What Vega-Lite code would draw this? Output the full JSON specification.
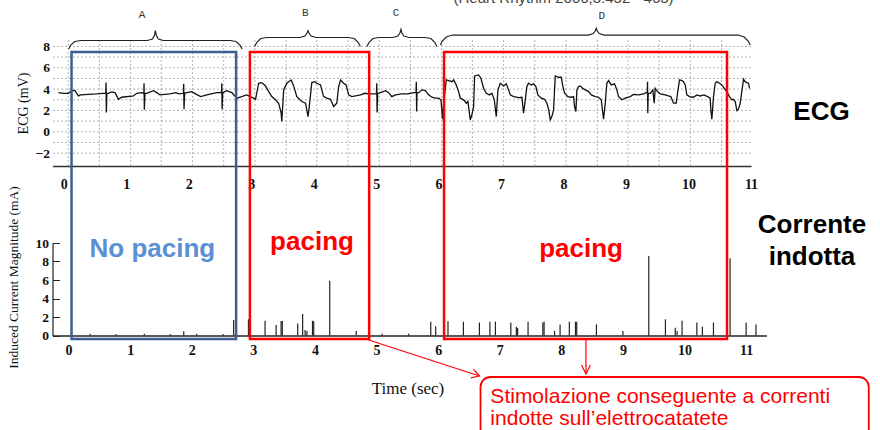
{
  "$schema": "https://vega.github.io/schema/vega-lite/v6.json",
  "background": "white",
  "padding": {"left": 5.5, "top": -9, "right": 0, "bottom": 0},
  "spacing": 77,
  "bounds": "flush",
  "config": {"view": {"stroke": null}, "axis": {"labelOverlap": false, "labelBound": false}},
  "datasets": {
    "ecg": [
      {"t":-0.085,"v":3.67},{"t":-0.005,"v":3.61},{"t":0.075,"v":3.61},{"t":0.128,"v":3.86},{"t":0.18,"v":3.86},{"t":0.235,"v":3.36},{"t":0.27,"v":3.46},{"t":0.4,"v":3.5},{"t":0.53,"v":3.55},{"t":0.635,"v":3.61},{"t":0.672,"v":3.61},{"t":0.677,"v":4.61},{"t":0.682,"v":1.81},{"t":0.69,"v":3.61},{"t":0.715,"v":3.61},{"t":0.768,"v":3.74},{"t":0.82,"v":3.67},{"t":0.875,"v":3.05},{"t":0.928,"v":3.24},{"t":1.115,"v":3.36},{"t":1.168,"v":3.61},{"t":1.248,"v":3.67},{"t":1.282,"v":3.61},{"t":1.285,"v":4.55},{"t":1.29,"v":2.06},{"t":1.3,"v":3.61},{"t":1.328,"v":3.61},{"t":1.435,"v":3.86},{"t":1.488,"v":3.67},{"t":1.54,"v":3.46},{"t":1.7,"v":3.55},{"t":1.797,"v":3.67},{"t":1.84,"v":3.55},{"t":1.915,"v":3.61},{"t":1.92,"v":4.5},{"t":1.925,"v":2.12},{"t":1.935,"v":3.61},{"t":1.97,"v":3.67},{"t":2.05,"v":3.77},{"t":2.11,"v":3.55},{"t":2.19,"v":3.3},{"t":2.29,"v":3.46},{"t":2.45,"v":3.67},{"t":2.525,"v":3.67},{"t":2.53,"v":4.55},{"t":2.535,"v":2.12},{"t":2.545,"v":3.67},{"t":2.61,"v":3.86},{"t":2.69,"v":3.67},{"t":2.77,"v":3.15},{"t":2.85,"v":3.3},{"t":2.92,"v":3.46},{"t":2.99,"v":3.3},{"t":3.07,"v":3.05},{"t":3.12,"v":4.55},{"t":3.17,"v":4.61},{"t":3.23,"v":4.3},{"t":3.28,"v":3.77},{"t":3.33,"v":3.3},{"t":3.39,"v":3.0},{"t":3.44,"v":2.68},{"t":3.48,"v":1.75},{"t":3.49,"v":0.97},{"t":3.52,"v":3.93},{"t":3.57,"v":4.55},{"t":3.6,"v":4.7},{"t":3.64,"v":4.86},{"t":3.68,"v":4.3},{"t":3.73,"v":3.3},{"t":3.81,"v":2.84},{"t":3.87,"v":2.68},{"t":3.91,"v":1.43},{"t":3.93,"v":2.37},{"t":3.97,"v":4.61},{"t":4.02,"v":4.7},{"t":4.05,"v":4.55},{"t":4.11,"v":4.39},{"t":4.13,"v":3.93},{"t":4.16,"v":3.3},{"t":4.21,"v":3.15},{"t":4.27,"v":3.05},{"t":4.32,"v":2.37},{"t":4.37,"v":2.68},{"t":4.4,"v":4.24},{"t":4.43,"v":4.86},{"t":4.48,"v":4.55},{"t":4.52,"v":4.39},{"t":4.56,"v":3.46},{"t":4.61,"v":3.3},{"t":4.67,"v":3.36},{"t":4.75,"v":3.46},{"t":4.82,"v":3.61},{"t":4.88,"v":3.55},{"t":4.96,"v":3.55},{"t":5.005,"v":3.55},{"t":5.01,"v":4.55},{"t":5.015,"v":1.81},{"t":5.025,"v":3.6},{"t":5.07,"v":3.67},{"t":5.15,"v":3.86},{"t":5.2,"v":3.67},{"t":5.25,"v":3.3},{"t":5.31,"v":3.46},{"t":5.41,"v":3.55},{"t":5.51,"v":3.55},{"t":5.547,"v":3.61},{"t":5.6,"v":3.67},{"t":5.638,"v":3.67},{"t":5.643,"v":4.7},{"t":5.648,"v":1.9},{"t":5.655,"v":3.67},{"t":5.68,"v":3.67},{"t":5.733,"v":3.93},{"t":5.787,"v":3.86},{"t":5.84,"v":3.46},{"t":5.893,"v":3.24},{"t":5.947,"v":3.15},{"t":6.0,"v":3.15},{"t":6.037,"v":3.0},{"t":6.064,"v":1.18},{"t":6.08,"v":2.68},{"t":6.123,"v":4.86},{"t":6.16,"v":4.8},{"t":6.213,"v":4.7},{"t":6.24,"v":4.86},{"t":6.283,"v":4.39},{"t":6.32,"v":3.77},{"t":6.347,"v":3.15},{"t":6.4,"v":3.0},{"t":6.443,"v":2.68},{"t":6.469,"v":2.84},{"t":6.507,"v":1.12},{"t":6.533,"v":1.59},{"t":6.56,"v":2.37},{"t":6.576,"v":5.23},{"t":6.64,"v":5.33},{"t":6.677,"v":5.02},{"t":6.72,"v":4.08},{"t":6.763,"v":3.61},{"t":6.816,"v":3.46},{"t":6.853,"v":3.61},{"t":6.891,"v":3.0},{"t":6.923,"v":1.43},{"t":6.949,"v":3.93},{"t":6.987,"v":4.55},{"t":7.04,"v":4.3},{"t":7.083,"v":4.49},{"t":7.12,"v":3.93},{"t":7.147,"v":3.46},{"t":7.2,"v":3.3},{"t":7.28,"v":3.2},{"t":7.333,"v":3.24},{"t":7.36,"v":1.74},{"t":7.387,"v":3.0},{"t":7.413,"v":4.24},{"t":7.44,"v":4.55},{"t":7.483,"v":4.39},{"t":7.52,"v":4.49},{"t":7.557,"v":4.24},{"t":7.589,"v":3.46},{"t":7.643,"v":3.15},{"t":7.696,"v":3.05},{"t":7.733,"v":2.68},{"t":7.76,"v":2.12},{"t":7.787,"v":1.12},{"t":7.813,"v":1.43},{"t":7.84,"v":2.06},{"t":7.867,"v":5.23},{"t":7.92,"v":5.11},{"t":7.963,"v":5.11},{"t":7.984,"v":4.39},{"t":8.016,"v":3.61},{"t":8.069,"v":3.3},{"t":8.123,"v":3.24},{"t":8.16,"v":3.3},{"t":8.176,"v":2.37},{"t":8.197,"v":1.9},{"t":8.213,"v":3.93},{"t":8.24,"v":4.24},{"t":8.267,"v":4.3},{"t":8.304,"v":4.08},{"t":8.347,"v":3.93},{"t":8.4,"v":3.77},{"t":8.443,"v":3.46},{"t":8.507,"v":3.3},{"t":8.56,"v":3.24},{"t":8.603,"v":3.0},{"t":8.64,"v":1.18},{"t":8.667,"v":2.68},{"t":8.693,"v":4.55},{"t":8.72,"v":4.8},{"t":8.763,"v":4.39},{"t":8.816,"v":4.49},{"t":8.853,"v":3.93},{"t":8.88,"v":3.3},{"t":8.933,"v":3.0},{"t":8.987,"v":3.15},{"t":9.067,"v":3.3},{"t":9.12,"v":3.5},{"t":9.2,"v":3.46},{"t":9.28,"v":3.55},{"t":9.323,"v":3.67},{"t":9.34,"v":3.67},{"t":9.344,"v":4.7},{"t":9.348,"v":1.74},{"t":9.355,"v":3.6},{"t":9.387,"v":3.61},{"t":9.429,"v":3.93},{"t":9.451,"v":2.68},{"t":9.467,"v":4.08},{"t":9.504,"v":3.77},{"t":9.547,"v":3.55},{"t":9.627,"v":3.46},{"t":9.68,"v":3.36},{"t":9.717,"v":3.3},{"t":9.76,"v":2.68},{"t":9.803,"v":2.68},{"t":9.824,"v":3.61},{"t":9.856,"v":4.86},{"t":9.893,"v":4.8},{"t":9.92,"v":4.7},{"t":9.947,"v":4.39},{"t":9.973,"v":3.46},{"t":10.016,"v":3.3},{"t":10.08,"v":3.24},{"t":10.133,"v":3.46},{"t":10.187,"v":3.36},{"t":10.251,"v":3.46},{"t":10.304,"v":3.3},{"t":10.347,"v":3.15},{"t":10.357,"v":2.06},{"t":10.373,"v":1.18},{"t":10.4,"v":3.3},{"t":10.427,"v":4.55},{"t":10.453,"v":4.7},{"t":10.496,"v":4.55},{"t":10.533,"v":4.39},{"t":10.571,"v":4.08},{"t":10.613,"v":3.77},{"t":10.656,"v":3.3},{"t":10.693,"v":3.0},{"t":10.72,"v":3.05},{"t":10.747,"v":2.84},{"t":10.773,"v":2.0},{"t":10.8,"v":2.12},{"t":10.827,"v":2.68},{"t":10.853,"v":3.77},{"t":10.88,"v":4.92},{"t":10.907,"v":4.7},{"t":10.933,"v":4.61},{"t":10.96,"v":4.55},{"t":10.976,"v":4.08}
    ],
    "cur": [
      {"t":0.35,"a":0.2},{"t":0.77,"a":0.15},{"t":1.23,"a":0.2},{"t":1.65,"a":0.15},{"t":1.87,"a":0.45},{"t":2.08,"a":0.2},{"t":2.51,"a":0.15},
      {"t":2.68,"a":1.68},{"t":2.92,"a":1.75},{"t":3.19,"a":1.6},{"t":3.37,"a":1.13},{"t":3.45,"a":1.56},{"t":3.47,"a":1.56},{"t":3.72,"a":1.31},{"t":3.8,"a":2.32},{"t":3.84,"a":0.6},{"t":3.87,"a":0.5},{"t":3.96,"a":1.6},{"t":3.98,"a":1.55},{"t":4.24,"a":5.93},{"t":4.67,"a":0.5},{"t":5.09,"a":0.2},{"t":5.52,"a":0.2},{"t":5.88,"a":1.5},{"t":5.96,"a":1.0},{"t":6.16,"a":1.55},{"t":6.41,"a":1.5},{"t":6.67,"a":1.4},{"t":6.84,"a":1.5},{"t":6.93,"a":1.5},{"t":7.18,"a":1.4},{"t":7.27,"a":0.95},{"t":7.29,"a":0.8},{"t":7.46,"a":1.5},{"t":7.7,"a":1.4},{"t":7.72,"a":1.5},{"t":7.89,"a":0.5},{"t":7.98,"a":1.2},{"t":8.13,"a":1.5},{"t":8.23,"a":1.5},{"t":8.25,"a":1.5},{"t":8.57,"a":1.2},{"t":9.0,"a":0.5},{"t":9.42,"a":8.6},{"t":9.69,"a":1.75},{"t":9.85,"a":0.85},{"t":9.88,"a":0.5},{"t":9.96,"a":1.6},{"t":10.2,"a":1.4},{"t":10.29,"a":0.95},{"t":10.47,"a":1.4},{"t":10.74,"a":8.35},{"t":11.0,"a":1.4},{"t":11.16,"a":1.2}
    ],
    "vgrid": [
      {"t":0.07},{"t":0.57},{"t":1.07},{"t":1.56},{"t":2.06},{"t":2.56},{"t":3.06},{"t":3.56},{"t":4.05},{"t":4.55},{"t":5.05},{"t":5.55},{"t":6.05},{"t":6.54},{"t":7.04},{"t":7.54},{"t":8.04},{"t":8.54},{"t":9.03},{"t":9.53},{"t":10.03},{"t":10.53}
    ],
    "hgrid": [
      {"v":-2},{"v":-1},{"v":0},{"v":1},{"v":2},{"v":3},{"v":4},{"v":5},{"v":6},{"v":7},{"v":8}
    ],
    "braces": [
      {"b":"A","i":0,"t":0.08,"v":7.757},{"b":"A","i":1,"t":0.112,"v":8.131},{"b":"A","i":2,"t":0.176,"v":8.458},{"b":"A","i":3,"t":0.272,"v":8.551},{"b":"A","i":4,"t":1.339,"v":8.551},{"b":"A","i":5,"t":1.419,"v":8.692},{"b":"A","i":6,"t":1.451,"v":9.019},{"b":"A","i":7,"t":1.467,"v":9.467},{"b":"A","i":8,"t":1.483,"v":9.019},{"b":"A","i":9,"t":1.515,"v":8.692},{"b":"A","i":10,"t":1.595,"v":8.551},{"b":"A","i":11,"t":2.661,"v":8.551},{"b":"A","i":12,"t":2.757,"v":8.458},{"b":"A","i":13,"t":2.821,"v":8.131},{"b":"A","i":14,"t":2.853,"v":7.757},
      {"b":"B","i":0,"t":3.056,"v":7.991},{"b":"B","i":1,"t":3.088,"v":8.364},{"b":"B","i":2,"t":3.152,"v":8.738},{"b":"B","i":3,"t":3.248,"v":8.832},{"b":"B","i":4,"t":3.781,"v":8.832},{"b":"B","i":5,"t":3.861,"v":8.972},{"b":"B","i":6,"t":3.893,"v":9.252},{"b":"B","i":7,"t":3.909,"v":9.467},{"b":"B","i":8,"t":3.925,"v":9.252},{"b":"B","i":9,"t":3.957,"v":8.972},{"b":"B","i":10,"t":4.037,"v":8.832},{"b":"B","i":11,"t":4.555,"v":8.832},{"b":"B","i":12,"t":4.651,"v":8.738},{"b":"B","i":13,"t":4.715,"v":8.364},{"b":"B","i":14,"t":4.747,"v":7.991},
      {"b":"C","i":0,"t":4.853,"v":7.991},{"b":"C","i":1,"t":4.885,"v":8.364},{"b":"C","i":2,"t":4.949,"v":8.738},{"b":"C","i":3,"t":5.045,"v":8.832},{"b":"C","i":4,"t":5.269,"v":8.832},{"b":"C","i":5,"t":5.349,"v":8.972},{"b":"C","i":6,"t":5.381,"v":9.252},{"b":"C","i":7,"t":5.397,"v":9.598},{"b":"C","i":8,"t":5.413,"v":9.252},{"b":"C","i":9,"t":5.445,"v":8.972},{"b":"C","i":10,"t":5.525,"v":8.832},{"b":"C","i":11,"t":5.781,"v":8.832},{"b":"C","i":12,"t":5.877,"v":8.738},{"b":"C","i":13,"t":5.941,"v":8.364},{"b":"C","i":14,"t":5.973,"v":7.991},
      {"b":"D","i":0,"t":6.027,"v":8.131},{"b":"D","i":1,"t":6.059,"v":8.505},{"b":"D","i":2,"t":6.123,"v":8.879},{"b":"D","i":3,"t":6.219,"v":9.065},{"b":"D","i":4,"t":8.395,"v":9.065},{"b":"D","i":5,"t":8.475,"v":9.206},{"b":"D","i":6,"t":8.507,"v":9.439},{"b":"D","i":7,"t":8.523,"v":9.692},{"b":"D","i":8,"t":8.539,"v":9.439},{"b":"D","i":9,"t":8.571,"v":9.206},{"b":"D","i":10,"t":8.651,"v":9.065},{"b":"D","i":11,"t":10.795,"v":9.065},{"b":"D","i":12,"t":10.891,"v":8.879},{"b":"D","i":13,"t":10.955,"v":8.505},{"b":"D","i":14,"t":10.987,"v":8.131}
    ],
    "braceLabels": [
      {"label":"A","t":1.253,"v":10.93},{"label":"B","t":3.867,"v":11.09},{"label":"C","t":5.317,"v":11.09},{"label":"D","t":8.613,"v":10.87}
    ],
    "boxes": [
      {"box":"A","paced":"no","t":0.048,"t2":2.72,"a":-0.38,"a2":30.65},
      {"box":"B","paced":"yes","t":2.944,"t2":4.88,"a":-0.38,"a2":30.65},
      {"box":"D","paced":"yes","t":6.096,"t2":10.69,"a":-0.38,"a2":30.65}
    ],
    "boxLabels": [
      {"label":"No pacing","paced":"no","t":1.36,"a":8.49},
      {"label":"pacing","paced":"yes","t":3.952,"a":9.24},
      {"label":"pacing","paced":"yes","t":8.32,"a":8.49}
    ],
    "arrows": [
      {"id":"a1","i":0,"t":4.848,"a":-0.432},{"id":"a1","i":1,"t":6.672,"a":-4.378},
      {"id":"h1","i":0,"t":6.575,"a":-3.658},{"id":"h1","i":1,"t":6.672,"a":-4.378},{"id":"h1","i":2,"t":6.531,"a":-4.584},
      {"id":"a2","i":0,"t":8.4,"a":-0.432},{"id":"a2","i":1,"t":8.4,"a":-4.162},
      {"id":"h2","i":0,"t":8.328,"a":-3.19},{"id":"h2","i":1,"t":8.4,"a":-4.162},{"id":"h2","i":2,"t":8.472,"a":-3.19}
    ]
  },
  "vconcat": [
    {
      "width": 698.5,
      "height": 126,
      "layer": [
        {
          "data": {"name": "hgrid"},
          "mark": {"type": "rule", "color": "#a0a0a0", "strokeDash": [2, 2], "strokeWidth": 0.8},
          "encoding": {
            "y": {
              "field": "v", "type": "quantitative",
              "scale": {"domain": [-3.2, 8.6], "nice": false, "zero": false},
              "axis": {
                "values": [-2, 0, 2, 4, 6, 8], "tickCount": 20, "format": "d", "labelOverlap": false, "labelBound": false,
                "title": "ECG (mV)", "titleX": -29, "titleY": 63, "titleBaseline": "middle",
                "titleFont": "Liberation Serif", "titleFontWeight": "normal", "titleFontSize": 14, "titleColor": "#111111",
                "domain": false, "ticks": false, "grid": false, "labelPadding": 3,
                "labelFont": "Liberation Serif", "labelFontWeight": "bold", "labelFontSize": 13.5, "labelColor": "#111111"
              }
            }
          }
        },
        {
          "data": {"name": "vgrid"},
          "mark": {"type": "rule", "color": "#a0a0a0", "strokeDash": [2, 2], "strokeWidth": 0.8},
          "encoding": {
            "x": {
              "field": "t", "type": "quantitative",
              "scale": {"domain": [-0.18, 11.0], "nice": false, "zero": false},
              "axis": {
                "values": [0, 1, 2, 3, 4, 5, 6, 7, 8, 9, 10, 11], "tickCount": 20, "format": "d", "labelOverlap": false,
                "title": null, "domain": true, "domainColor": "#333333", "domainWidth": 1.6, "ticks": false, "grid": false,
                "labelPadding": 11, "labelFlush": false,
                "labelFont": "Liberation Serif", "labelFontWeight": "bold", "labelFontSize": 14, "labelColor": "#111111"
              }
            }
          }
        },
        {
          "data": {"name": "ecg"},
          "mark": {"type": "line", "color": "#111111", "strokeWidth": 1.3},
          "encoding": {
            "x": {"field": "t", "type": "quantitative"},
            "y": {"field": "v", "type": "quantitative"}
          }
        },
        {
          "data": {"name": "braces"},
          "mark": {"type": "line", "color": "#222222", "strokeWidth": 1.2},
          "encoding": {
            "x": {"field": "t", "type": "quantitative"},
            "y": {"field": "v", "type": "quantitative"},
            "detail": {"field": "b", "type": "nominal"},
            "order": {"field": "i", "type": "quantitative"}
          }
        },
        {
          "data": {"name": "braceLabels"},
          "mark": {"type": "text", "font": "Liberation Mono", "fontSize": 11, "color": "#333333", "align": "center", "baseline": "middle"},
          "encoding": {
            "x": {"field": "t", "type": "quantitative"},
            "y": {"field": "v", "type": "quantitative"},
            "text": {"field": "label", "type": "nominal"}
          }
        },
        {
          "data": {"values": [{"label": "(Heart Rhythm 2006;3:452 - 463)", "t": 8.0, "v": 12.06}]},
          "mark": {"type": "text", "font": "Liberation Sans", "fontSize": 15, "color": "#444444", "align": "center", "baseline": "alphabetic"},
          "encoding": {
            "x": {"field": "t", "type": "quantitative"},
            "y": {"field": "v", "type": "quantitative"},
            "text": {"field": "label", "type": "nominal"}
          }
        },
        {
          "data": {"values": [{"label": "ECG", "t": 12.128, "v": 1.12}]},
          "mark": {"type": "text", "font": "Liberation Sans", "fontWeight": "bold", "fontSize": 26, "color": "#000000", "align": "center", "baseline": "alphabetic"},
          "encoding": {
            "x": {"field": "t", "type": "quantitative"},
            "y": {"field": "v", "type": "quantitative"},
            "text": {"field": "label", "type": "nominal"}
          }
        }
      ]
    },
    {
      "width": 714,
      "height": 92.5,
      "layer": [
        {
          "data": {"name": "cur"},
          "mark": {"type": "bar", "orient": "vertical", "color": "#222222", "size": 1.2},
          "encoding": {
            "x": {
              "field": "t", "type": "quantitative",
              "scale": {"domain": [-0.18, 11.25], "nice": false, "zero": false},
              "axis": {
                "values": [0, 1, 2, 3, 4, 5, 6, 7, 8, 9, 10, 11], "tickCount": 20, "format": "d", "labelOverlap": false,
                "title": "Time (sec)", "titleX": 355, "titleY": 52.5, "titleBaseline": "middle",
                "titleFont": "Liberation Serif", "titleFontWeight": "normal", "titleFontSize": 17, "titleColor": "#111111",
                "domainColor": "#222222", "domainWidth": 1.6, "ticks": false, "grid": false,
                "labelPadding": 8, "labelFlush": false,
                "labelFont": "Liberation Serif", "labelFontWeight": "bold", "labelFontSize": 14, "labelColor": "#111111"
              }
            },
            "y": {
              "field": "a", "type": "quantitative",
              "scale": {"domain": [0, 10], "nice": false},
              "axis": {
                "values": [0, 2, 4, 6, 8, 10], "tickCount": 20, "format": "d", "labelOverlap": false, "labelBound": false,
                "title": "Induced Current Magnitude (mA)", "titleX": -39, "titleY": 34, "titleBaseline": "middle",
                "titleFont": "Liberation Serif", "titleFontWeight": "normal", "titleFontSize": 13.5, "titleColor": "#111111",
                "domainColor": "#222222", "domainWidth": 1.2, "tickColor": "#222222", "tickSize": -7, "grid": false,
                "labelPadding": 11,
                "labelFont": "Liberation Serif", "labelFontWeight": "bold", "labelFontSize": 13.5, "labelColor": "#111111"
              }
            }
          }
        },
        {
          "data": {"name": "boxes"},
          "mark": {"type": "rect", "filled": false, "strokeWidth": 2.5},
          "encoding": {
            "x": {"field": "t", "type": "quantitative"},
            "x2": {"field": "t2"},
            "y": {"field": "a", "type": "quantitative"},
            "y2": {"field": "a2"},
            "stroke": {"field": "paced", "type": "nominal", "scale": {"domain": ["no", "yes"], "range": ["#3d5d94", "#ff0000"]}, "legend": null}
          }
        },
        {
          "data": {"name": "boxLabels"},
          "mark": {"type": "text", "font": "Liberation Sans", "fontWeight": "bold", "fontSize": 26, "align": "center", "baseline": "alphabetic"},
          "encoding": {
            "x": {"field": "t", "type": "quantitative"},
            "y": {"field": "a", "type": "quantitative"},
            "text": {"field": "label", "type": "nominal"},
            "color": {"field": "paced", "type": "nominal", "scale": {"domain": ["no", "yes"], "range": ["#5b8fd4", "#ff0000"]}, "legend": null}
          }
        },
        {
          "data": {"values": [{"label": "Corrente", "t": 12.07, "a": 11.08}, {"label": "indotta", "t": 12.07, "a": 7.62}]},
          "mark": {"type": "text", "font": "Liberation Sans", "fontWeight": "bold", "fontSize": 26, "color": "#000000", "align": "center", "baseline": "alphabetic"},
          "encoding": {
            "x": {"field": "t", "type": "quantitative"},
            "y": {"field": "a", "type": "quantitative"},
            "text": {"field": "label", "type": "nominal"}
          }
        },
        {
          "data": {"values": [{"t": 6.688, "t2": 12.992, "a": -4.486, "a2": -13.5}]},
          "mark": {"type": "rect", "fill": "#ffffff", "stroke": "#ff0000", "strokeWidth": 1.8, "cornerRadius": 10},
          "encoding": {
            "x": {"field": "t", "type": "quantitative"},
            "x2": {"field": "t2"},
            "y": {"field": "a", "type": "quantitative"},
            "y2": {"field": "a2"}
          }
        },
        {
          "data": {"values": [{"line": "Stimolazione conseguente a correnti", "t": 6.848, "a": -7.33}, {"line": "indotte sull’elettrocatatete", "t": 6.848, "a": -9.68}]},
          "mark": {"type": "text", "font": "Liberation Sans", "fontSize": 21, "color": "#ff0000", "align": "left", "baseline": "alphabetic"},
          "encoding": {
            "x": {"field": "t", "type": "quantitative"},
            "y": {"field": "a", "type": "quantitative"},
            "text": {"field": "line", "type": "nominal"}
          }
        },
        {
          "data": {"name": "arrows"},
          "mark": {"type": "line", "color": "#ff0000", "strokeWidth": 1.2},
          "encoding": {
            "x": {"field": "t", "type": "quantitative"},
            "y": {"field": "a", "type": "quantitative"},
            "detail": {"field": "id", "type": "nominal"},
            "order": {"field": "i", "type": "quantitative"}
          }
        }
      ]
    }
  ]
}
